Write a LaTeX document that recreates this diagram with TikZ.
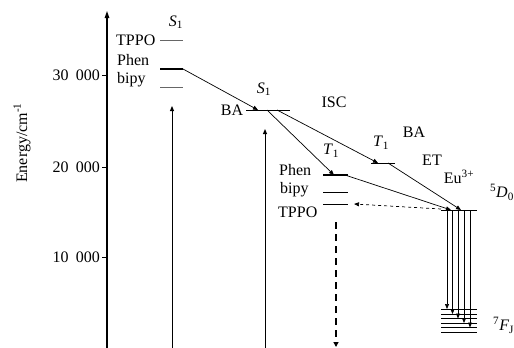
\documentclass[tikz,border=0pt]{standalone}
\usepackage{fontspec}
\setmainfont{Liberation Serif}
\usetikzlibrary{arrows.meta}
\begin{document}
\begin{tikzpicture}[x=1pt,y=-1pt,
  lvl/.style={line width=0.8pt},
  lvlthick/.style={line width=1.3pt},
  conn/.style={line width=0.7pt,-{Triangle[length=5pt,width=4pt]}},
  lbl/.style={font=\fontsize{16}{18}\selectfont,inner sep=0pt},
  tick/.style={line width=1pt}]
\useasboundingbox (0,0) rectangle (514,348);
% axis
\coordinate (ax0) at (107,348);
\coordinate (ax1) at (107,11);
\draw[line width=1.2pt,-{Triangle[length=7pt,width=4.5pt]}] (ax0) -- (ax1);
\foreach \y/\t in {75/30, 167/20, 257/10}{
  \coordinate (tk\t) at (107,\y);
  \draw[tick] (tk\t) -- ++(-5,0);
  \node[lbl,anchor=east] (tl\t) at (100,\y) {\t\hspace{0.45em}000};
}
\node[lbl,rotate=90] (ylab) at (22,143) {Energy/cm\textsuperscript{-1}};
% left S1 levels
\coordinate (sT1) at (160,40); \coordinate (sT2) at (183,40);
\coordinate (sP1) at (160,69); \coordinate (sP2) at (183,69);
\coordinate (sB1) at (160,87); \coordinate (sB2) at (183,87);
\draw[lvl,gray!80!black] (sT1) -- (sT2);
\draw[lvlthick] (sP1) -- (sP2);
\draw[lvl,gray!80!black] (sB1) -- (sB2);
\node[lbl] (s1a) at (176,22) {\textit{S}\textsubscript{1}};
\node[lbl,anchor=west] (tppoA) at (116,40) {TPPO};
\node[lbl,anchor=west] (phenA) at (117,60) {Phen};
\node[lbl,anchor=west] (bipyA) at (117,80) {bipy};
% excitation arrows
\coordinate (ex1a) at (172,348); \coordinate (ex1b) at (172,106);
\draw[conn,line width=1pt] (ex1a) -- (ex1b);
\coordinate (ex2a) at (265,348); \coordinate (ex2b) at (265,129);
\draw[conn,line width=1pt] (ex2a) -- (ex2b);
% BA S1
\coordinate (baS1a) at (246,110); \coordinate (baS1b) at (290,110);
\draw[lvl] (baS1a) -- (baS1b);
\node[lbl] (baA) at (232,110) {BA};
\node[lbl] (s1b) at (264,89) {\textit{S}\textsubscript{1}};
\coordinate (baS1t) at (258,110);
\draw[conn] (sP2) -- (baS1t);
% T1 levels
\coordinate (tP1) at (323,175); \coordinate (tP2) at (348,175);
\coordinate (tB1) at (323,192); \coordinate (tB2) at (348,192);
\coordinate (tT1) at (323,204); \coordinate (tT2) at (348,204);
\draw[lvlthick] (tP1) -- (tP2);
\draw[lvl] (tB1) -- (tB2);
\draw[lvl] (tT1) -- (tT2);
\node[lbl,anchor=west] (phenB) at (279,170) {Phen};
\node[lbl,anchor=west] (bipyB) at (280,190) {bipy};
\node[lbl,anchor=west] (tppoB) at (278,212) {TPPO};
\node[lbl] (t1a) at (331,151) {\textit{T}\textsubscript{1}};
% T1 BA
\coordinate (tBA1) at (371,163); \coordinate (tBA2) at (395,163);
\draw[lvl] (tBA1) -- (tBA2);
\node[lbl] (t1b) at (381,143) {\textit{T}\textsubscript{1}};
% ISC arrows
\coordinate (isc1s) at (267,110); \coordinate (isc1e) at (334,175);
\coordinate (isc2s) at (277,110); \coordinate (isc2e) at (378,163);
\draw[conn] (isc1s) -- (isc1e);
\draw[conn] (isc2s) -- (isc2e);
\node[lbl] (isc) at (334,102) {ISC};
\node[lbl] (baB) at (414,132) {BA};
\node[lbl] (et) at (432,160) {ET};
\node[lbl] (eu) at (459,177) {Eu\textsuperscript{3+}};
% 5D0
\coordinate (d1) at (441,210); \coordinate (d2) at (477,210);
\draw[lvl] (d1) -- (d2);
\node[lbl] (d0) at (502,192) {\textsuperscript{5}\textit{D}\textsubscript{0}};
% ET arrows
\coordinate (et1s) at (345,175); \coordinate (et1e) at (451,210);
\coordinate (et2s) at (388,163); \coordinate (et2e) at (461,210);
\draw[conn] (et1s) -- (et1e);
\draw[conn] (et2s) -- (et2e);
% dashed back transfer
\coordinate (bt1) at (441,209); \coordinate (bt2) at (354,204);
\draw[conn,dashed] (bt1) -- (bt2);
% thick dashed decay
\coordinate (nr1) at (336,222); \coordinate (nr2) at (336,347);
\draw[line width=1.8pt,dash pattern=on 7pt off 5pt,-{Triangle[length=5pt,width=5pt]}] (nr1) -- (nr2);
% 7F levels
\foreach \i/\y in {1/309,2/314,3/318.5,4/323,5/327.5,6/332}{
  \coordinate (fa\i) at (441,\y); \coordinate (fb\i) at (477,\y);
  \draw[lvl] (fa\i) -- (fb\i);
}
\node[lbl,anchor=west] (fj) at (493,325) {\textsuperscript{7}\textit{F}\textsubscript{J}};
% emission arrows
\foreach \i/\x/\y in {1/447/309,2/452.5/314,3/458/318.5,4/464/323,5/470/327.5}{
  \coordinate (em\i s) at (\x,210); \coordinate (em\i e) at (\x,\y);
  \draw[conn] (em\i s) -- (em\i e);
}
\end{tikzpicture}
\end{document}
